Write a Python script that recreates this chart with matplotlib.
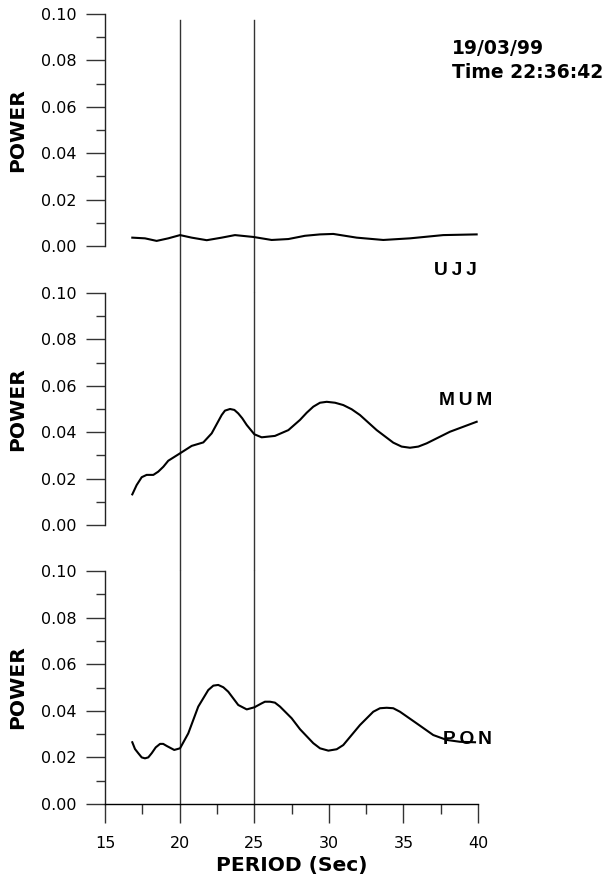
import numpy as np
import matplotlib
matplotlib.use("Agg")
import matplotlib.pyplot as plt

# readings from the reference, period (s) vs power
ujj_x = [16.83, 17.68, 18.46, 19.24, 20.03, 20.81, 21.82, 22.82, 23.71, 24.94,
         26.17, 27.29, 28.40, 29.41, 30.30, 31.87, 33.65, 35.44, 37.67, 39.91]
ujj_y = [0.0036, 0.0033, 0.0022, 0.0033, 0.0047, 0.0036, 0.0025, 0.0036, 0.0047, 0.0039,
         0.0026, 0.0030, 0.0044, 0.0050, 0.0052, 0.0036, 0.0026, 0.0033, 0.0047, 0.0050]

mum_x = [16.83, 17.12, 17.46, 17.79, 18.24, 18.57, 18.91, 19.24, 20.03, 20.81,
         21.59, 22.15, 22.82, 23.04, 23.38, 23.67, 23.93, 24.20, 24.50, 25.01,
         25.50, 26.39, 27.29, 28.07, 28.52, 28.96, 29.41, 29.86, 30.42, 30.97,
         31.53, 32.09, 33.21, 34.32, 34.88, 35.44, 36.00, 36.56, 38.12, 39.91]
mum_y = [0.0132, 0.0172, 0.0206, 0.0216, 0.0216, 0.0230, 0.0251, 0.0277, 0.0309, 0.0341,
         0.0356, 0.0395, 0.0474, 0.0493, 0.0500, 0.0496, 0.0481, 0.0460, 0.0431, 0.0391,
         0.0378, 0.0384, 0.0409, 0.0453, 0.0484, 0.0510, 0.0527, 0.0531, 0.0527, 0.0517,
         0.0499, 0.0474, 0.0409, 0.0355, 0.0338, 0.0333, 0.0338, 0.0352, 0.0402, 0.0445]

pon_x = [16.83, 17.01, 17.23, 17.46, 17.68, 17.90, 18.13, 18.40, 18.69, 18.90,
         19.14, 19.64, 20.03, 20.58, 21.25, 21.92, 22.26, 22.59, 22.93, 23.26,
         23.93, 24.50, 25.01, 25.50, 25.72, 26.06, 26.39, 26.73, 27.51, 28.07,
         28.96, 29.41, 29.97, 30.53, 30.97, 32.09, 32.98, 33.43, 33.88, 34.32,
         34.77, 35.89, 37.00, 37.90, 38.79, 39.80]
pon_y = [0.0265, 0.0236, 0.0218, 0.0200, 0.0196, 0.0200, 0.0218, 0.0243, 0.0258, 0.0258,
         0.0249, 0.0232, 0.0239, 0.0303, 0.0418, 0.0489, 0.0508, 0.0511, 0.0501, 0.0482,
         0.0425, 0.0406, 0.0415, 0.0432, 0.0439, 0.0439, 0.0435, 0.0418, 0.0368, 0.0321,
         0.0261, 0.0239, 0.0229, 0.0235, 0.0253, 0.0339, 0.0396, 0.0411, 0.0413, 0.0411,
         0.0396, 0.0346, 0.0296, 0.0275, 0.0267, 0.0265]

stations = ["U\u2009J\u2009J", "M\u2009U\u2009M", "P\u2009O\u2009N"]
marks = [20, 25]
date_txt = "19/03/99"
time_txt = "Time 22:36:42"

fig = plt.figure(figsize=(6.08, 8.8), dpi=100)
W, H = 608, 880
left, right = 105, 478
panels = [(14, 246), (293, 525), (571, 804)]  # top/bottom pixel rows
series = [(ujj_x, ujj_y), (mum_x, mum_y), (pon_x, pon_y)]
lab_pos = [(477, 270), (492, 400), (492, 739)]

axes = []
for i, (top, bot) in enumerate(panels):
    ax = fig.add_axes([left / W, 1 - bot / H, (right - left) / W, (bot - top) / H])
    ax.set_xlim(15, 40)
    ax.set_ylim(0, 0.1)
    ax.set_yticks(np.arange(0, 0.101, 0.02))
    ax.set_yticks(np.arange(0.01, 0.1, 0.02), minor=True)
    ax.set_yticklabels(["%.2f" % v for v in np.arange(0, 0.101, 0.02)])
    ax.tick_params(axis="y", which="major", length=13.7, width=1, pad=6.5,
                   labelsize=11.5, color="#333333")
    ax.tick_params(axis="y", which="minor", length=6.5, width=1, color="#333333")
    for s in ["top", "right"]:
        ax.spines[s].set_visible(False)
    ax.spines["left"].set_linewidth(1.0)
    ax.spines["left"].set_color("#222222")
    x, y = series[i]
    ax.plot(x, y, color="black", lw=1.5, clip_on=False, solid_joinstyle="round")
    ymax = (bot - 20) / (bot - top) if i == 0 else 1.0
    ymin = 0 if i == 2 else -0.25
    for m in marks:
        ax.axvline(m, ymin=ymin, ymax=ymax, color="#333333", lw=1.0, clip_on=False, zorder=1)
    lx, ly = lab_pos[i]
    fig.text(lx / W, 1 - ly / H, stations[i], ha="right", va="center",
             fontsize=13.8, fontweight="bold", family=["Liberation Sans", "DejaVu Sans"])
    fig.text(18 / W, 1 - (top + bot) / 2 / H, "POWER", rotation=90, ha="center",
             va="center", fontsize=14.6, fontweight="bold")
    if i < 2:
        ax.spines["bottom"].set_visible(False)
        ax.set_xticks([])
    else:
        ax.spines["bottom"].set_linewidth(1.0)
        ax.set_xticks(np.arange(15, 41, 5))
        ax.set_xticks(np.arange(17.5, 40, 5), minor=True)
        ax.tick_params(axis="x", which="major", length=13.7, width=1, pad=9,
                       labelsize=11.5, color="#333333")
        ax.tick_params(axis="x", which="minor", length=7, width=1, color="#333333")
        ax.set_xlabel("PERIOD (Sec)", fontsize=14.6, fontweight="bold", labelpad=4)
    axes.append(ax)

fig.text(452 / W, 1 - 48 / H, date_txt, ha="left", va="center",
         fontsize=13.5, fontweight="bold")
fig.text(452 / W, 1 - 73 / H, time_txt, ha="left", va="center",
         fontsize=13.5, fontweight="bold")

fig.savefig("out.png", dpi=100)
